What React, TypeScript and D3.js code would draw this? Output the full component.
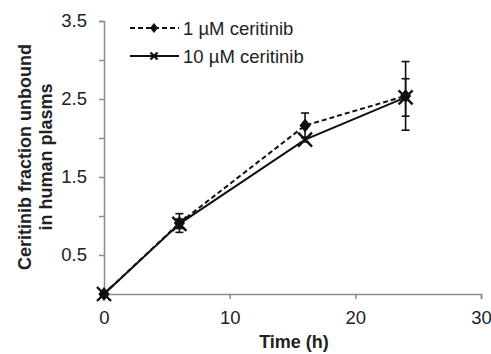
import React, { useRef, useEffect } from "react";
import * as d3 from "d3";

const times = [0, 6, 16, 24];
const series1Name = "1 µM ceritinib";
const series1 = [0, 0.91, 2.16, 2.54];
const series1Err = [0.02, 0.12, 0.16, 0.44];
const series2Name = "10 µM ceritinib";
const series2 = [0, 0.9, 1.98, 2.52];
const series2Err = [0.02, 0.06, 0.03, 0.24];
const yTicks = [0, 0.5, 1, 1.5, 2, 2.5, 3, 3.5];
const yTickLabels = ["", "0.5", "", "1.5", "", "2.5", "", "3.5"];
const xTicks = [0, 10, 20, 30];

export default function App() {
  const ref = useRef<SVGSVGElement | null>(null);

  useEffect(() => {
    if (!ref.current) return;
    const svg = d3.select(ref.current);
    svg.selectAll("*").remove();

    const W = 491, H = 354;
    const font = "'Liberation Sans', Arial, sans-serif";
    const axisColor = "#8c8c8c";
    const textColor = "#222";

    const x = d3.scaleLinear().domain([0, 30]).range([104, 481]);
    const y = d3.scaleLinear().domain([0, 3.5]).range([294, 21]);

    svg.attr("width", W).attr("height", H).style("display", "block");
    svg.append("rect").attr("width", W).attr("height", H).attr("fill", "#fff");

    // y axis
    const gy = svg.append("g").attr("transform", `translate(${x(0)},0)`)
      .call(d3.axisLeft(y).tickValues(yTicks).tickSize(5).tickFormat((_, i) => yTickLabels[i]));
    gy.select(".domain").attr("stroke", axisColor).attr("stroke-width", 1.5);
    gy.selectAll(".tick line").attr("stroke", axisColor).attr("stroke-width", 1.5);
    gy.selectAll(".tick text").attr("font-family", font).attr("font-size", 18.5)
      .attr("fill", textColor).attr("x", -17);

    // x axis
    const gx = svg.append("g").attr("transform", `translate(0,${y(0)})`)
      .call(d3.axisBottom(x).tickValues(xTicks).tickSize(5).tickFormat(d3.format("d")));
    gx.select(".domain").attr("stroke", axisColor).attr("stroke-width", 1.5);
    gx.selectAll(".tick line").attr("stroke", axisColor).attr("stroke-width", 1.5);
    gx.selectAll(".tick text").attr("font-family", font).attr("font-size", 18.5)
      .attr("fill", textColor).attr("y", 17);

    const line = d3.line<number>().x((_, i) => x(times[i])).y((d) => y(d));

    const drawErr = (vals: number[], errs: number[]) => {
      const g = svg.append("g").attr("stroke", "#111").attr("stroke-width", 1.6);
      vals.forEach((v, i) => {
        const cx = x(times[i]);
        const top = y(v + errs[i]);
        const bot = y(v - errs[i]);
        g.append("line").attr("x1", cx).attr("x2", cx).attr("y1", top).attr("y2", bot);
        g.append("line").attr("x1", cx - 4).attr("x2", cx + 4).attr("y1", top).attr("y2", top);
        g.append("line").attr("x1", cx - 4).attr("x2", cx + 4).attr("y1", bot).attr("y2", bot);
      });
    };

    drawErr(series1, series1Err);
    drawErr(series2, series2Err);

    svg.append("path").datum(series1).attr("d", line).attr("fill", "none")
      .attr("stroke", "#111").attr("stroke-width", 2).attr("stroke-dasharray", "5,3");
    svg.append("path").datum(series2).attr("d", line).attr("fill", "none")
      .attr("stroke", "#111").attr("stroke-width", 2);

    const diamond = (cx: number, cy: number, r = 6) =>
      svg.append("path")
        .attr("d", `M${cx},${cy - r}L${cx + r * 0.8},${cy}L${cx},${cy + r}L${cx - r * 0.8},${cy}Z`)
        .attr("fill", "#111");
    const cross = (cx: number, cy: number, r = 6) =>
      svg.append("path")
        .attr("d", `M${cx - r},${cy - r}L${cx + r},${cy + r}M${cx - r},${cy + r}L${cx + r},${cy - r}`)
        .attr("stroke", "#111").attr("stroke-width", 2.4).attr("fill", "none");

    series1.forEach((v, i) => diamond(x(times[i]), y(v), 7));
    series2.forEach((v, i) => cross(x(times[i]), y(v), 7));

    // legend
    const legend = [
      { name: series1Name, y: 28, dash: "5,3", mark: "d" },
      { name: series2Name, y: 56, dash: null, mark: "x" },
    ];
    legend.forEach((l) => {
      svg.append("line").attr("x1", 130).attr("x2", 179).attr("y1", l.y).attr("y2", l.y)
        .attr("stroke", "#111").attr("stroke-width", 2)
        .attr("stroke-dasharray", l.dash ?? null);
      if (l.mark === "d") diamond(154, l.y, 5);
      else cross(154, l.y, 3.5);
      svg.append("text").attr("x", 183).attr("y", l.y + 6.5).text(l.name)
        .attr("font-family", font).attr("font-size", 18.5).attr("fill", textColor);
    });

    // axis titles
    svg.append("text").attr("x", 294).attr("y", 348).attr("text-anchor", "middle")
      .attr("font-family", font).attr("font-size", 18).attr("font-weight", "bold")
      .attr("fill", textColor).text("Time (h)");
    const yt = svg.append("text").attr("transform", "translate(31,157) rotate(-90)")
      .attr("text-anchor", "middle").attr("font-family", font).attr("font-size", 18)
      .attr("font-weight", "bold").attr("fill", textColor);
    yt.append("tspan").attr("x", 0).attr("y", 0).text("Ceritinib fraction unbound");
    yt.append("tspan").attr("x", 0).attr("y", 21).text("in human plasms");
  }, []);

  return (
    <div style={{ position: "absolute", left: 0, top: 0 }}>
      <svg ref={ref} />
    </div>
  );
}
